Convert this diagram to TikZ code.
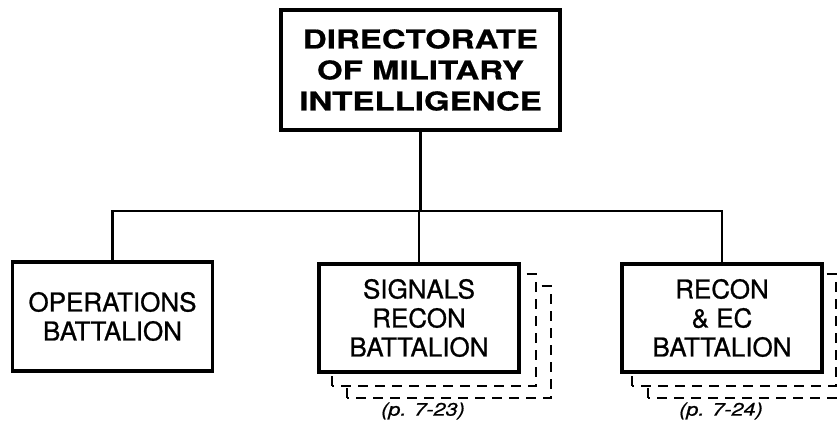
\documentclass[tikz,border=0pt]{standalone}
\usepackage{fontspec}
\setmainfont{TeX Gyre Heros}[FakeBold=0.8]
\newfontfamily\topfont{TeX Gyre Heros}[FakeStretch=1.27,FakeBold=0.6]
\newfontfamily\pagefont{TeX Gyre Heros}[FakeStretch=1.2,FakeBold=0.8]
\usetikzlibrary{calc,backgrounds}
\tikzset{
  orgbox/.style={draw, line width=3.6pt, fill=white, inner sep=0pt, align=center},
  topbox/.style={orgbox, minimum width=279pt, minimum height=120pt,
     font=\topfont\bfseries\fontsize{26}{31}\selectfont},
  unitbox/.style={orgbox, minimum width=200pt, minimum height=108pt,
     font=\fontsize{26}{29}\selectfont},
  shadowbox/.style={draw, line width=1.8pt, fill=white, dash pattern=on 10pt off 7pt},
  conn/.style={draw, line width=2.8pt},
  pageref/.style={font=\pagefont\itshape\fontsize{18}{20}\selectfont, inner sep=0pt}
}
\begin{document}
\begin{tikzpicture}[x=1pt,y=-1pt]
\useasboundingbox (0,0) rectangle (839,432);
\node[topbox] (top) at (420.5,70) {DIRECTORATE\\OF MILITARY\\INTELLIGENCE};
\node[unitbox, minimum height=109pt] (ops) at (112.5,316.5) {OPERATIONS\\BATTALION};
\node[unitbox] (sig) at (419,318) {SIGNALS\\RECON\\BATTALION};
\node[unitbox] (rec) at (722,318) {RECON\\\&\ EC\\BATTALION};
\begin{scope}[on background layer]
  \draw[shadowbox] ($(sig.south west)+(30,24)$) rectangle ($(sig.north east)+(30,24)$);
  \draw[shadowbox] ($(sig.south west)+(15,12)$) rectangle ($(sig.north east)+(15,12)$);
  \draw[shadowbox] ($(rec.south west)+(28,24)$) rectangle ($(rec.north east)+(28,24)$);
  \draw[shadowbox] ($(rec.south west)+(12,12)$) rectangle ($(rec.north east)+(12,12)$);
\end{scope}
\coordinate (bus) at (420.5,211);
\draw[conn] (top.south) -- (bus);
\draw[conn] (ops.north) |- (bus);
\draw[conn] (rec.north) |- (bus);
\draw[conn] (sig.north) -- (sig.north |- bus);
\node[pageref] (p23) at (423,411) {(p. 7-23)};
\node[pageref] (p24) at (721,411) {(p. 7-24)};
\end{tikzpicture}
\end{document}
